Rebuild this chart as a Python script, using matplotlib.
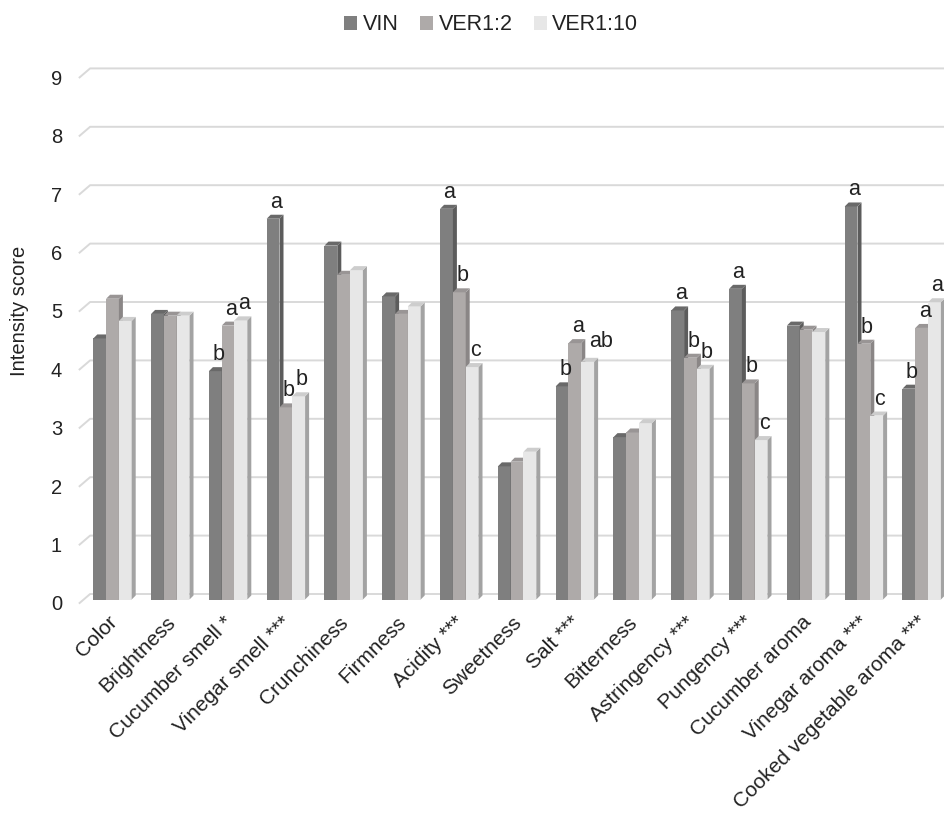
import matplotlib.pyplot as plt
import matplotlib.transforms as mtransforms
from matplotlib.patches import Polygon, Patch
import numpy as np

plt.rcParams['font.family'] = ['Liberation Sans', 'DejaVu Sans']

attributes = ['Color', 'Brightness', 'Cucumber smell *', 'Vinegar smell ***', 'Crunchiness',
              'Firmness', 'Acidity ***', 'Sweetness', 'Salt ***', 'Bitterness',
              'Astringency ***', 'Pungency ***', 'Cucumber aroma', 'Vinegar aroma ***',
              'Cooked vegetable aroma ***']
series_names = ['VIN', 'VER1:2', 'VER1:10']
vin = [4.47, 4.89, 3.91, 6.52, 6.06, 5.19, 6.69, 2.28, 3.65, 2.78, 4.95, 5.32, 4.69, 6.73, 3.61]
ver12 = [5.15, 4.86, 4.69, 3.29, 5.56, 4.89, 5.26, 2.36, 4.39, 2.86, 4.14, 3.70, 4.62, 4.38, 4.65]
ver110 = [4.77, 4.86, 4.78, 3.48, 5.64, 5.02, 3.98, 2.53, 4.07, 3.02, 3.95, 2.73, 4.58, 3.15, 5.09]
letters_vin = ['', '', 'b', 'a', '', '', 'a', '', 'b', '', 'a', 'a', '', 'a', 'b']
letters_ver12 = ['', '', 'a', 'b', '', '', 'b', '', 'a', '', 'b', 'b', '', 'b', 'a']
letters_ver110 = ['', '', 'a', 'b', '', '', 'c', '', 'ab', '', 'b', 'c', '', 'c', 'a']

front_cols = ['#7f7f7f', '#aeaaa9', '#e7e7e7']
side_cols = ['#5c5c5c', '#8a8686', '#a3a3a3']
top_cols = ['#696969', '#999595', '#cdcdcd']
txt = '#222222'

W, H = 945, 814
fig = plt.figure(figsize=(W / 100, H / 100), dpi=100)

# pixel layout of the front (bar) plane
x_left, cat_px = 83.6, 57.8
y_zero, unit_px = 599.5, 58.4
ymax = 9.2
ax = fig.add_axes([x_left / W, (H - y_zero) / H, (W - x_left) / W, ymax * unit_px / H])
ax.set_xlim(-0.5, -0.5 + (W - x_left) / cat_px)
ax.set_ylim(0, ymax)
for s in ax.spines.values():
    s.set_visible(False)

px_x = 1 / cat_px
px_y = 1 / unit_px

# back wall gridlines with slanted left tail
for v in range(10):
    ax.plot([-0.5 - 4 * px_x, -0.5 + 6.5 * px_x, 20],
            [v - 3.5 * px_y, v + 5.5 * px_y, v + 5.5 * px_y],
            color='#d9d9d9', lw=1.4, clip_on=False, zorder=0)

x = np.arange(len(attributes))
bw = 12.8 * px_x
dx, dy = 4 * px_x, 4 * px_y
all_vals = [vin, ver12, ver110]
all_letters = [letters_vin, letters_ver12, letters_ver110]

for i in range(len(attributes)):
    for k in range(3):
        val = all_vals[k][i]
        x0 = x[i] + (k - 1.5) * bw
        x1 = x0 + bw
        ax.bar(x0, val, width=bw, align='edge', color=front_cols[k], zorder=2 + i * 3 + k)
        side = Polygon([[x1, 0], [x1 + dx, dy], [x1 + dx, val + dy], [x1, val]],
                       closed=True, facecolor=side_cols[k], edgecolor='none',
                       zorder=2 + i * 3 + k)
        top = Polygon([[x0, val], [x0 + dx, val + dy], [x1 + dx, val + dy], [x1, val]],
                      closed=True, facecolor=top_cols[k], edgecolor='none',
                      zorder=2 + i * 3 + k)
        ax.add_patch(side)
        ax.add_patch(top)
        lab = all_letters[k][i]
        if lab:
            if len(lab) > 1:
                # longer labels sit to the right like in the original
                ax.text(x1 - 5 * px_x, val + dy + 6 * px_y, lab, ha='left', va='bottom',
                        fontsize=15.5, color=txt, zorder=100)
            else:
                ax.text((x0 + x1) / 2 + 3 * px_x, val + dy + 2 * px_y, lab, ha='center',
                        va='bottom', fontsize=15.5, color=txt, zorder=100)

# y tick labels on the front plane
ax.set_yticks(range(10))
ax.set_yticklabels([str(v) for v in range(10)], fontsize=14.5, color=txt)
ax.tick_params(axis='y', length=0, pad=15.5)
shift = mtransforms.ScaledTranslation(0, -3.5 / 100, fig.dpi_scale_trans)
for lbl in ax.get_yticklabels():
    lbl.set_transform(lbl.get_transform() + shift)

ax.set_xticks(x)
ax.set_xticklabels(attributes, rotation=45, ha='right', rotation_mode='anchor',
                   fontsize=15, color=txt)
ax.tick_params(axis='x', length=0, pad=9.5)
xshift = mtransforms.ScaledTranslation(-5 / 100, 0, fig.dpi_scale_trans)
for lbl in ax.get_xticklabels():
    lbl.set_transform(lbl.get_transform() + xshift)

fig.text(20 / W, 1 - 311 / H, 'Intensity score', rotation=90, ha='center', va='center',
         fontsize=14.5, color=txt)

handles = [Patch(facecolor=c, edgecolor='none') for c in front_cols]
fig.legend(handles, series_names, loc='center', bbox_to_anchor=(0.52, 1 - 25 / H), ncol=3,
           frameon=False, fontsize=15.5, handlelength=0.6, handleheight=0.6,
           handletextpad=0.25, columnspacing=1.0, labelcolor=txt)

fig.savefig('out.png', dpi=100)
